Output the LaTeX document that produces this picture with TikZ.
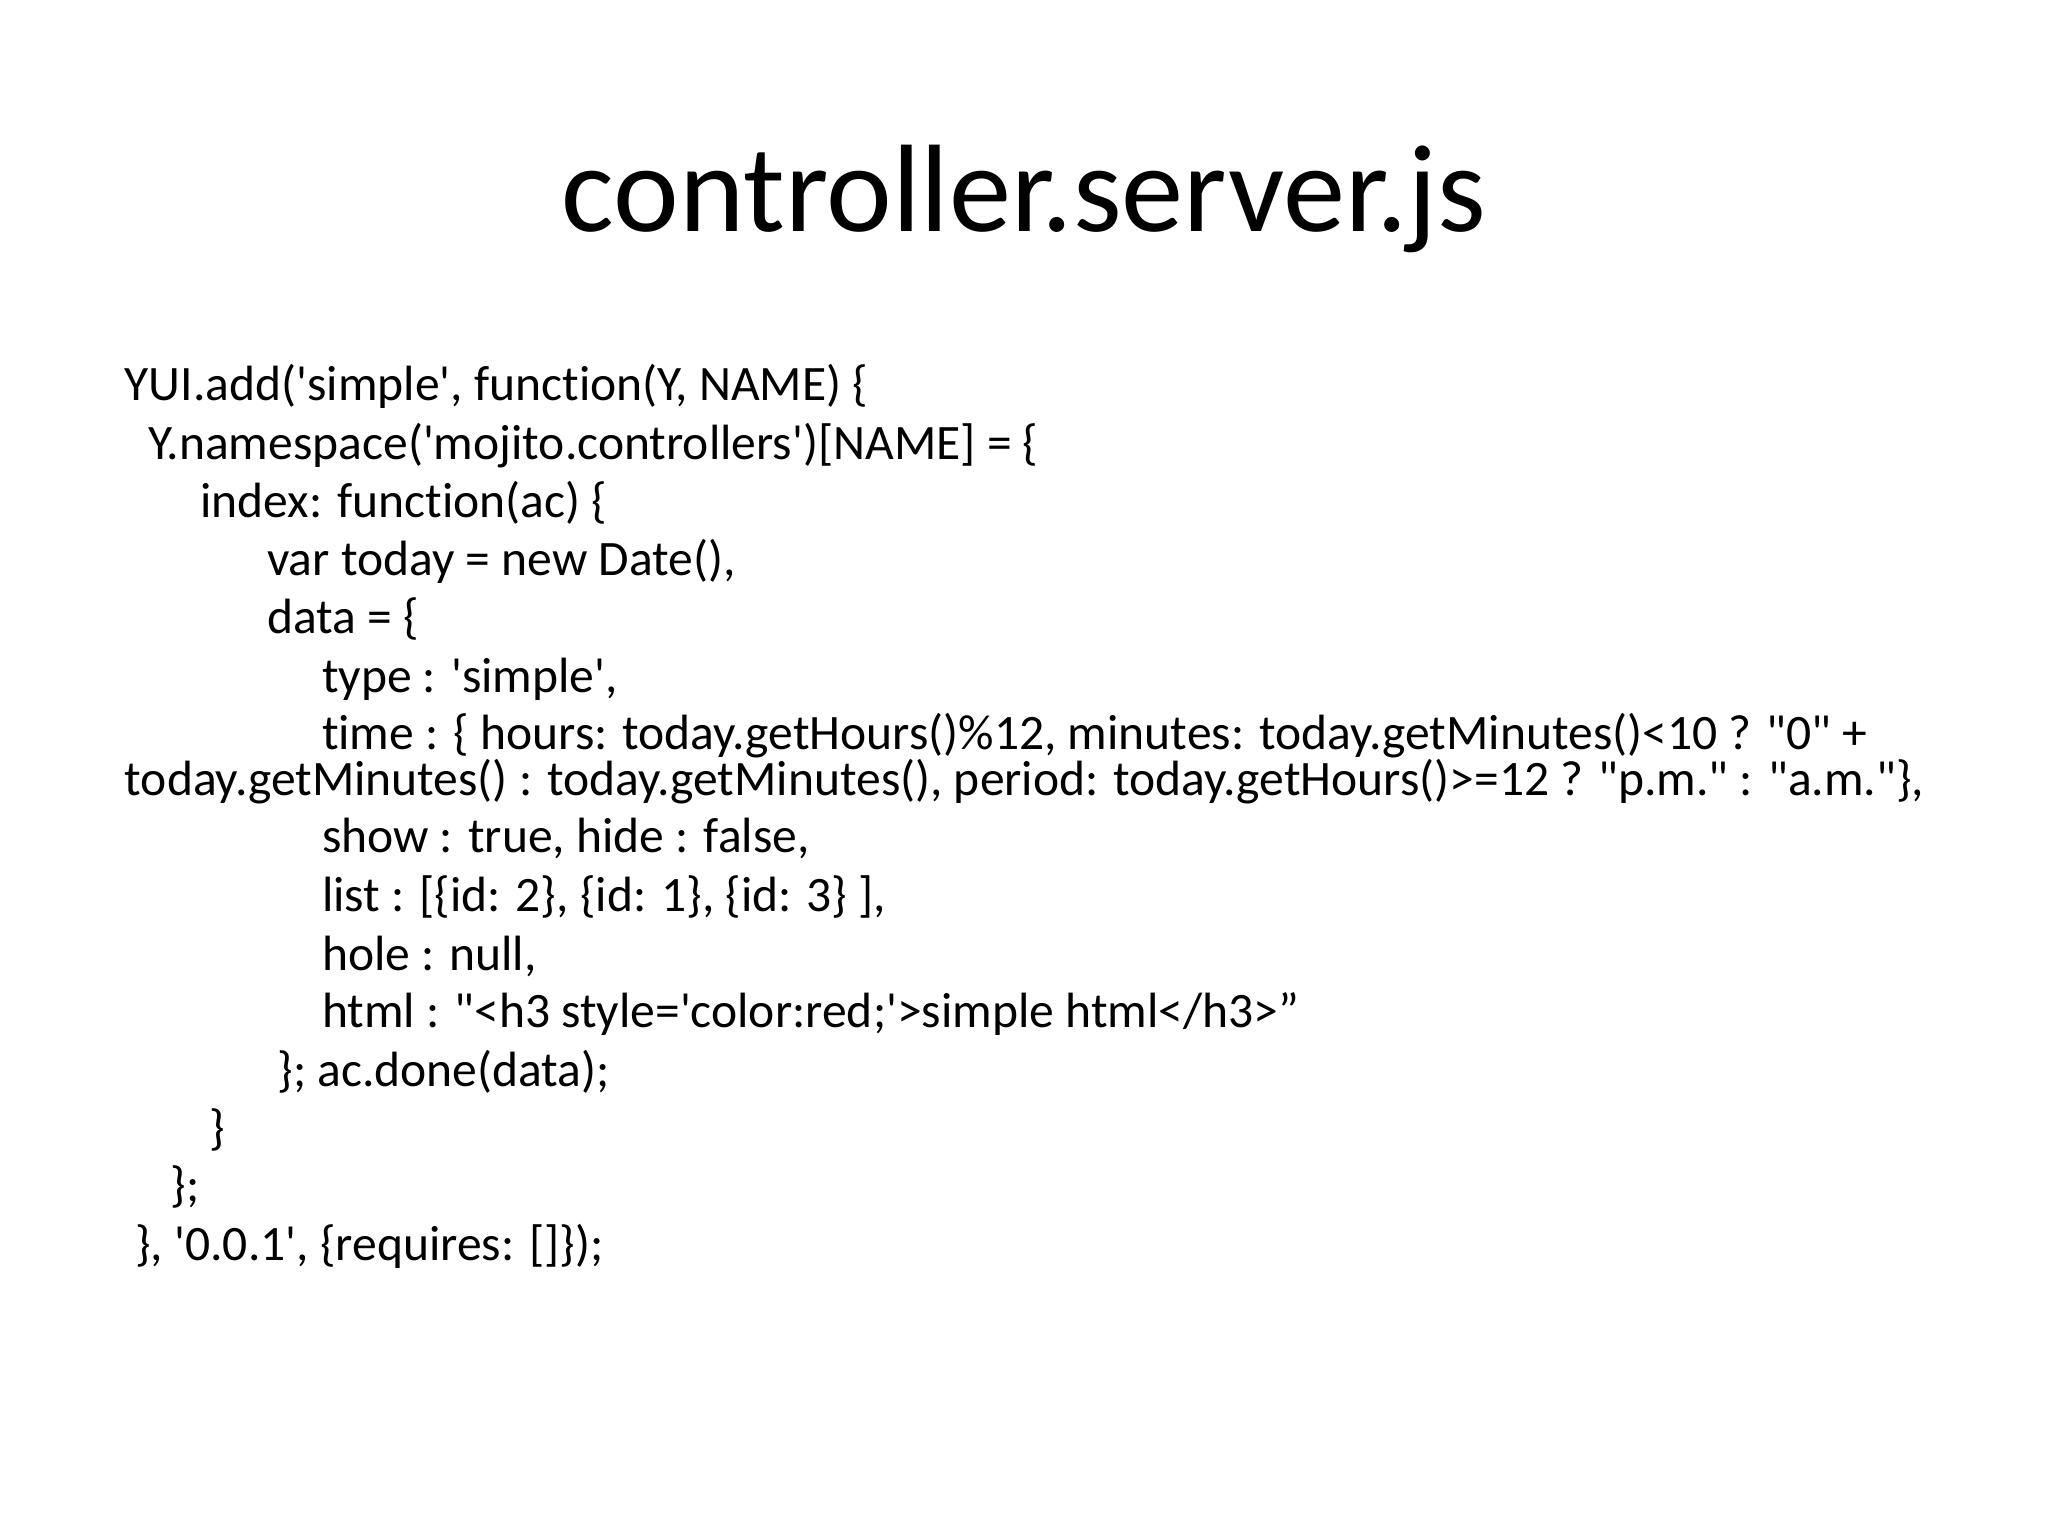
\documentclass[tikz,border=0pt]{standalone}
\usepackage{fontspec}
\setmainfont{Carlito}[Ligatures={TeXOff,NoCommon}]
\begin{document}
\begin{tikzpicture}[x=0.01306cm,y=-0.01306cm,
  code/.style={anchor=base west,inner sep=0pt,font=\fontsize{14.1pt}{17pt}\selectfont}]
\useasboundingbox (0,0) rectangle (1568,1176);
\node[inner sep=0pt,anchor=base,font=\fontsize{35.4pt}{40pt}\selectfont] (title) at (784,177) {controller.server.js};
\node[code] (l1) at (95,307) {YUI.add('simple', function(Y, NAME) \{};
\node[code] (l2) at (113,352) {Y.namespace('mojito.controllers')[NAME] = \{};
\node[code] (l3) at (153,396) {index: function(ac) \{};
\node[code] (l4) at (204,441) {var today = new Date(),};
\node[code] (l5) at (204,485) {data = \{};
\node[code] (l6) at (246,530) {type : 'simple',};
\node[code] (l7) at (246,574) {time : \{ hours: today.getHours()\%12, minutes: today.getMinutes()<10 ? "0" +};
\node[code] (l8) at (95,609) {today.getMinutes() : today.getMinutes(), period: today.getHours()>=12 ? "p.m." : "a.m."\},};
\node[code] (l9) at (246,653) {show : true, hide : false,};
\node[code] (l10) at (246,698) {list : [\{id: 2\}, \{id: 1\}, \{id: 3\} ],};
\node[code] (l11) at (246,743) {hole : null,};
\node[code] (l12) at (246,787) {html : "<h3 style='color:red;'>simple html</h3>”};
\node[code] (l13) at (212,832) {\}; ac.done(data);};
\node[code] (l14) at (160,876) {\}};
\node[code] (l15) at (130,920) {\};};
\node[code] (l16) at (103,965) {\}, '0.0.1', \{requires: []\});};
\end{tikzpicture}
\end{document}
